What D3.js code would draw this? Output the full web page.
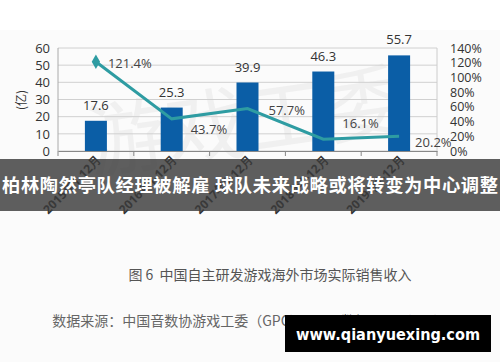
<!DOCTYPE html>
<html><head><meta charset="utf-8">
<script src="https://cdn.jsdelivr.net/npm/d3@7"></script>
<style>body{margin:0;background:#fff}svg{display:block}</style>
</head><body>
<script>
const categories = ["2015年1-12月","2016年1-12月","2017年1-12月","2018年1-12月","2019年1-12月"];
const revenue = [17.6, 25.3, 39.9, 46.3, 55.7];
const growth = [121.4, 43.7, 57.7, 16.1, 20.2];
const leftTicks = [0,10,20,30,40,50,60];
const rightTicks = [0,20,40,60,80,100,120,140];
const banner = "柏林陶然亭队经理被解雇 球队未来战略或将转变为中心调整";
const caption = "图 6  中国自主研发游戏海外市场实际销售收入";
const source = "数据来源：中国音数协游戏工委（GPC）&国际数据公司（IDC）";
const site = "www.qianyuexing.com";

const W=500,H=362;
const svg=d3.select("body").append("svg").attr("width",W).attr("height",H);
svg.append("rect").attr("width",W).attr("height",H).attr("fill","#fff");
svg.append("rect").attr("y",30).attr("width",W).attr("height",H-30).attr("fill","#fbfbfb");

const m={l:58,r:437,t:48,b:151};
const x=d3.scaleBand().domain(categories).range([m.l,m.r]);
const yL=d3.scaleLinear().domain([0,60]).range([m.b,m.t]);
const yR=d3.scaleLinear().domain([0,140]).range([m.b,m.t]);
const font="'Open Sans','Liberation Sans',sans-serif";

// watermark
svg.append("text").attr("x",250).attr("y",150).attr("text-anchor","middle")
  .attr("font-family","'Noto Sans CJK SC'").attr("font-size",80).attr("fill","#f0f0f0")
  .attr("transform","rotate(-8,250,150)").text("游戏工委");

// gridlines
svg.append("g").selectAll("line").data(leftTicks).join("line")
  .attr("x1",m.l).attr("x2",m.r).attr("y1",d=>yL(d)).attr("y2",d=>yL(d))
  .attr("stroke","#d0d0d0").attr("stroke-width",1);
svg.append("line").attr("x1",m.l).attr("x2",m.l).attr("y1",m.t).attr("y2",m.b).attr("stroke","#aaa");
svg.append("line").attr("x1",m.r).attr("x2",m.r).attr("y1",m.t).attr("y2",m.b).attr("stroke","#ccc");

// left axis
const gl=svg.append("g").attr("transform",`translate(${m.l},0)`)
  .call(d3.axisLeft(yL).tickValues(leftTicks).tickSize(0).tickPadding(8));
gl.select(".domain").remove();
gl.selectAll("text").attr("font-family",font).attr("font-size",13).attr("fill","#333");
// right axis
const gr=svg.append("g").attr("transform",`translate(${m.r},0)`)
  .call(d3.axisRight(yR).tickValues(rightTicks).tickFormat(d=>d+"%").tickSize(0).tickPadding(13));
gr.select(".domain").remove();
gr.selectAll("text").attr("font-family",font).attr("font-size",12.5).attr("fill","#333");

svg.append("text").attr("transform","translate(26,100) rotate(-90)").attr("text-anchor","middle")
  .attr("font-family","'Noto Sans CJK SC'").attr("font-size",12).attr("fill","#333").text("(亿)");

// bottom axis
const gb=svg.append("g").attr("transform",`translate(0,${m.b})`)
  .call(d3.axisBottom(x).tickSize(0).tickFormat(""));
gb.select(".domain").attr("stroke","#888");
svg.append("g").selectAll("line").data(d3.range(categories.length+1)).join("line")
  .attr("x1",i=>m.l+i*x.step()).attr("x2",i=>m.l+i*x.step())
  .attr("y1",m.b).attr("y2",m.b+5).attr("stroke","#888");

// bars
const bw=22;
svg.append("g").selectAll("rect").data(revenue).join("rect")
  .attr("x",(d,i)=>x(categories[i])+x.bandwidth()/2-bw/2).attr("width",bw)
  .attr("y",d=>yL(d)).attr("height",d=>yL(0)-yL(d)).attr("fill","#0b5ea6");
svg.append("g").selectAll("text").data(revenue).join("text")
  .attr("x",(d,i)=>x(categories[i])+x.bandwidth()/2).attr("y",d=>yL(d)-11)
  .attr("text-anchor","middle").attr("font-family",font).attr("font-size",13).attr("fill","#333")
  .text(d=>d.toFixed(1));

// line
const cx=(i)=>x(categories[i])+x.bandwidth()/2;
svg.append("path").datum(growth)
  .attr("d",d3.line().x((d,i)=>cx(i)).y(d=>yR(d)))
  .attr("fill","none").attr("stroke","#2e9ca2").attr("stroke-width",3);
svg.append("path").attr("d",d3.symbol(d3.symbolDiamond,60)())
  .attr("transform",`translate(${cx(0)},${yR(growth[0])})`).attr("fill","#2e9ca2");
const pdx=[12,19,21,19,16], pdy=[6,15,6,-11,11];
svg.append("g").selectAll("text").data(growth).join("text")
  .attr("x",(d,i)=>cx(i)+pdx[i]).attr("y",(d,i)=>yR(d)+pdy[i])
  .attr("font-family",font).attr("font-size",13).attr("fill","#444")
  .text(d=>d.toFixed(1)+"%");

// x labels rotated
svg.append("g").selectAll("text").data(categories).join("text")
  .attr("transform",(d,i)=>`translate(${cx(i)+6},${m.b+10}) rotate(-45)`)
  .attr("text-anchor","end").attr("font-family",font).attr("font-size",12).attr("font-weight","bold").attr("fill","#333")
  .text(d=>d);

// banner
svg.append("rect").attr("x",0).attr("y",159).attr("width",W).attr("height",52).attr("fill","#3a3a3a").attr("opacity",0.82);
svg.append("text").attr("x",250).attr("y",192).attr("text-anchor","middle")
  .attr("font-family","'Noto Sans CJK SC'").attr("font-weight","bold").attr("font-size",18.3).attr("fill","#fff")
  .attr("textLength",496).text(banner);

// caption & source
svg.append("text").attr("x",270).attr("y",280).attr("text-anchor","middle")
  .attr("font-family","'Noto Sans CJK SC'").attr("font-size",14).attr("fill","#555").attr("xml:space","preserve").text(caption);
svg.append("text").attr("x",250).attr("y",326).attr("text-anchor","middle")
  .attr("font-family","'Noto Sans CJK SC'").attr("font-size",14).attr("fill","#666").text(source);

// site watermark
svg.append("rect").attr("x",285).attr("y",315).attr("width",206).attr("height",37).attr("fill","#000");
svg.append("text").attr("x",388).attr("y",340).attr("text-anchor","middle")
  .attr("font-family","'DejaVu Sans'").attr("font-weight","bold").attr("font-size",16).attr("fill","#fff")
  .attr("textLength",184).attr("lengthAdjust","spacingAndGlyphs").text(site);
</script>
</body></html>
